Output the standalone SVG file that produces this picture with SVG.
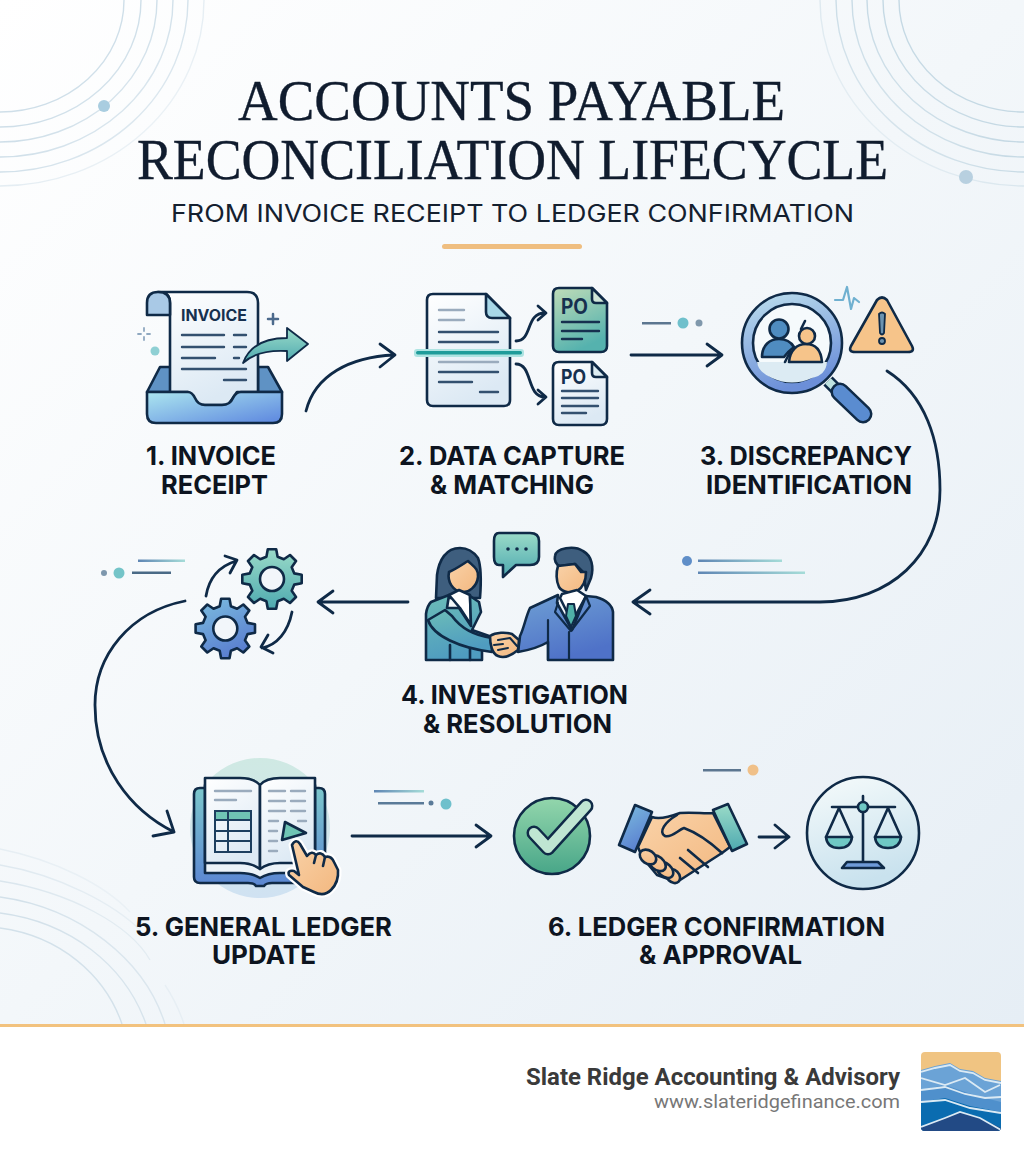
<svg xmlns="http://www.w3.org/2000/svg" xmlns:xlink="http://www.w3.org/1999/xlink" width="1024" height="1154" viewBox="0 0 1024 1154">
<style>
.s{stroke:#0f2a47;stroke-width:2.6;stroke-linejoin:round;stroke-linecap:round}
.l{fill:none;stroke:#33506f;stroke-width:2.4;stroke-linecap:round}
.lg{fill:none;stroke:#9aabbd;stroke-width:2.4;stroke-linecap:round}
.c{fill:none;stroke:#0f2a47;stroke-width:2.8;stroke-linecap:round;stroke-linejoin:round}
.lab{font-family:"Inter","Liberation Sans",sans-serif;font-weight:700;font-size:26px;fill:#0d1420}
.ttl{font-family:"Liberation Serif",serif;font-size:57px;fill:#101c2e;stroke:#101c2e;stroke-width:.35}
.po{font-family:"Inter","Liberation Sans",sans-serif;font-weight:700;fill:#16304f}
</style>
<defs>
<linearGradient id="bg" x1="0" y1="0" x2="1" y2="1"><stop offset="0" stop-color="#ffffff"/><stop offset=".5" stop-color="#f3f7fa"/><stop offset="1" stop-color="#e6eef5"/></linearGradient>
<linearGradient id="paper" x1="0" y1="0" x2=".4" y2="1"><stop offset="0" stop-color="#ffffff"/><stop offset="1" stop-color="#dce9f4"/></linearGradient>
<linearGradient id="tray" x1="0" y1="0" x2="1" y2="1"><stop offset="0" stop-color="#ace6ef"/><stop offset="1" stop-color="#5c86df"/></linearGradient>
<linearGradient id="teal" x1="0" y1="0" x2="0" y2="1"><stop offset="0" stop-color="#9adbc8"/><stop offset="1" stop-color="#4ea9b0"/></linearGradient>
<linearGradient id="pog" x1="0" y1="0" x2=".4" y2="1"><stop offset="0" stop-color="#c0dcb8"/><stop offset="1" stop-color="#55b2ae"/></linearGradient>
<linearGradient id="ring" x1="0" y1="0" x2=".3" y2="1"><stop offset="0" stop-color="#bfe1ee"/><stop offset="1" stop-color="#6c8fd8"/></linearGradient>
<linearGradient id="blue" x1="0" y1="0" x2=".5" y2="1"><stop offset="0" stop-color="#7dbfdf"/><stop offset="1" stop-color="#5a7fd0"/></linearGradient>
<linearGradient id="suit" x1="0" y1="0" x2=".4" y2="1"><stop offset="0" stop-color="#6fa0d4"/><stop offset="1" stop-color="#4f72c8"/></linearGradient>
<linearGradient id="jacket" x1="0" y1="0" x2=".3" y2="1"><stop offset="0" stop-color="#6cbdb8"/><stop offset="1" stop-color="#4f9cc0"/></linearGradient>
<linearGradient id="skin" x1="0" y1="0" x2="1" y2="1"><stop offset="0" stop-color="#f9d2a8"/><stop offset="1" stop-color="#f3b880"/></linearGradient>
<linearGradient id="check" x1="0" y1="0" x2="0" y2="1"><stop offset="0" stop-color="#93d6ac"/><stop offset="1" stop-color="#48a688"/></linearGradient>
<linearGradient id="scale" x1="0" y1="0" x2=".3" y2="1"><stop offset="0" stop-color="#f6fbfb"/><stop offset="1" stop-color="#c9e2ee"/></linearGradient>
<linearGradient id="halo" x1="0" y1="0" x2="0" y2="1"><stop offset="0" stop-color="#cfe9e3"/><stop offset="1" stop-color="#d0e2f2"/></linearGradient>
<linearGradient id="cover" x1="0" y1="0" x2="0" y2="1"><stop offset="0" stop-color="#7cc7cc"/><stop offset="1" stop-color="#5b86d2"/></linearGradient>
<linearGradient id="fade" x1="0" y1="0" x2="1" y2="0"><stop offset="0" stop-color="#5f86b4"/><stop offset="1" stop-color="#a5dcd8"/></linearGradient>
<linearGradient id="o1" gradientUnits="userSpaceOnUse" x1="0" y1="0" x2="200" y2="190"><stop offset=".4" stop-color="#cfdfe9"/><stop offset="1" stop-color="#eef3f7"/></linearGradient>
<linearGradient id="o2" gradientUnits="userSpaceOnUse" x1="1024" y1="0" x2="824" y2="190"><stop offset=".4" stop-color="#c5d9e4"/><stop offset="1" stop-color="#ecf2f6"/></linearGradient>
<linearGradient id="o3" gradientUnits="userSpaceOnUse" x1="0" y1="1024" x2="180" y2="870"><stop offset=".4" stop-color="#d3e1ea"/><stop offset="1" stop-color="#eef3f7"/></linearGradient>
<path id="gear" d="M22.3 -5.6L29.7 -4.2L29.7 4.2L22.3 5.6L19.7 11.8L24 18L18 24L11.8 19.7L5.6 22.3L4.2 29.7L-4.2 29.7L-5.6 22.3L-11.8 19.7L-18 24L-24 18L-19.7 11.8L-22.3 5.6L-29.7 4.2L-29.7 -4.2L-22.3 -5.6L-19.7 -11.8L-24 -18L-18 -24L-11.8 -19.7L-5.6 -22.3L-4.2 -29.7L4.2 -29.7L5.6 -22.3L11.8 -19.7L18 -24L24 -18L19.7 -11.8Z"/>
<clipPath id="logoclip"><rect x="921" y="1052" width="80" height="79" rx="4"/></clipPath>
</defs>

<rect width="1024" height="1024" fill="url(#bg)"/>

<g id="background-rings">
<g stroke="url(#o1)" fill="none" stroke-width="1.400">
<path d="M124 0A124 112 0 0 1 0 112"/><path d="M141 0A141 127 0 0 1 0 127"/><path d="M157 0A157 142 0 0 1 0 142"/><path d="M173 0A173 157 0 0 1 0 157"/><path d="M188 0A188 172 0 0 1 0 172"/><path d="M204 0A204 186 0 0 1 0 186" opacity=".6"/>
</g>
<g stroke="url(#o2)" fill="none" stroke-width="1.400">
<path d="M899 0A125 112 0 0 0 1024 112"/><path d="M883 0A141 127 0 0 0 1024 127"/><path d="M867 0A157 142 0 0 0 1024 142"/><path d="M852 0A172 157 0 0 0 1024 157"/><path d="M836 0A188 172 0 0 0 1024 172"/><path d="M820 0A204 186 0 0 0 1024 186" opacity=".6"/>
</g>
<g stroke="url(#o3)" fill="none" stroke-width="1.400">
<path d="M0 928C60 936 105 975 122 1024"/><path d="M0 913C70 922 125 965 146 1024"/><path d="M0 897C80 908 145 960 165 1024"/><path d="M0 881C70 892 130 925 150 960" opacity=".8"/><path d="M0 865C60 875 115 905 140 930" opacity=".7"/><path d="M0 849C55 860 105 885 130 912" opacity=".5"/>
<path d="M165 985C175 1000 180 1012 184 1024" opacity=".5"/>
</g>
<circle cx="104" cy="106" r="6" fill="#a9cde0"/>
<circle cx="966" cy="177" r="7" fill="#b8d0e0"/>
</g>

<g id="title">
<text class="ttl" x="238" y="120" textLength="547" lengthAdjust="spacingAndGlyphs">ACCOUNTS PAYABLE</text>
<text class="ttl" x="137" y="178.500" textLength="751" lengthAdjust="spacingAndGlyphs">RECONCILIATION LIFECYCLE</text>
<text x="171" y="222" font-family="Inter,'Liberation Sans',sans-serif" font-size="24" fill="#14202f" textLength="683" lengthAdjust="spacingAndGlyphs">FROM INVOICE RECEIPT TO LEDGER CONFIRMATION</text>
<rect x="442" y="244" width="140" height="5" rx="2.500" fill="#efbe80"/>
</g>

<g id="connectors">
<path class="c" d="M306 411C315 375 350 357 394 355M380 344L395 355L380 367"/>
<path class="c" d="M631 355L722 355M707 344L722 355L707 366"/>
<path class="c" d="M887 371C925 395 940 440 940 490C940 555 890 602 820 602L633 602M650 590L633 602L650 614"/>
<path class="c" d="M408 602L318 602M333 591L318 602L333 613"/>
<path class="c" d="M185 601C130 612 95 655 95 705C95 765 130 810 174 832M167 811L174 832L153 836"/>
<path class="c" d="M352 836L491 836M476 825L491 836L476 847"/>
</g>

<g id="decor">
<rect x="642" y="322" width="29" height="2.500" fill="#5c7690"/><circle cx="683" cy="323" r="5.500" fill="#6fc0cc"/><circle cx="699" cy="323" r="3.500" fill="#8098ac"/>
<circle cx="687" cy="561" r="5" fill="#5f8ec8"/><rect x="698" y="559.500" width="84" height="2.500" fill="url(#fade)"/><rect x="698" y="571.500" width="107" height="2.500" fill="url(#fade)"/>
<circle cx="104" cy="573" r="3" fill="#7d97ad"/><circle cx="119" cy="573" r="5.500" fill="#74c4c8"/><rect x="132" y="571.500" width="39" height="2.500" fill="#4a6a86"/><rect x="138" y="559.500" width="47" height="2.500" fill="url(#fade)"/>
<rect x="374" y="790" width="50" height="2.500" fill="url(#fade)"/><rect x="378" y="802" width="46" height="2.500" fill="#5a7a98"/><circle cx="431" cy="803" r="2.500" fill="#5a7a98"/><circle cx="446" cy="804" r="5.500" fill="#6fc0cc"/>
<rect x="703" y="769" width="38" height="2.500" fill="#5c7690"/><circle cx="753" cy="770" r="5.500" fill="#f0c088"/>
</g>

<g id="node-1">
<path class="s" fill="#5f92c4" d="M147 392L160 367L171 367L171 392ZM258 367L268 367L282 392L258 392Z"/>
<path class="s" fill="url(#paper)" d="M158 292L247 292Q258 292 258 303L258 392L237 392L228 405L198 405L188 392L170 392L170 303Q170 292 158 292Z"/>
<path class="s" fill="#a9c9e6" d="M170 315L147 315L147 303Q147 292 158 292Q170 292 170 303Z"/>
<text class="po" x="181" y="321" font-size="15.500" textLength="66" lengthAdjust="spacingAndGlyphs">INVOICE</text>
<path class="l" d="M182 335L224 335M234 335L246 335M182 347L224 347M234 347L246 347M182 358L215 358M234 358L239 358M182 369L246 369M224 380L246 380"/>
<path class="s" fill="url(#tray)" d="M147 392L188 392Q192 392 195 398Q198 405 205 405L222 405Q230 405 233 398Q236 392 241 392L282 392L282 414Q282 423 273 423L156 423Q147 423 147 414Z"/>
<path class="s" style="stroke-width:1.800" fill="url(#teal)" d="M243 363C250 344 268 338 287 338L287 328L308 344L287 361L287 351C270 350 255 352 243 363Z"/>
<path d="M273 314L273 324M268 319L278 319" fill="none" stroke="#4c6a8c" stroke-width="2.500" stroke-linecap="round"/>
<path d="M144 328L144 331M144 337L144 340M138 334L141 334M147 334L150 334" fill="none" stroke="#8fa8c0" stroke-width="1.800" stroke-linecap="round"/>
<circle cx="155" cy="351" r="4.500" fill="#8fd0d4"/>
<text class="lab" x="146" y="465" textLength="130" lengthAdjust="spacingAndGlyphs">1. INVOICE</text>
<text class="lab" x="161" y="494" textLength="107" lengthAdjust="spacingAndGlyphs">RECEIPT</text>
</g>

<g id="node-2">
<path class="s" fill="url(#paper)" d="M427 300Q427 294 433 294L486 294L510 318L510 400Q510 406 504 406L433 406Q427 406 427 400Z"/>
<path class="s" fill="#a8d8e8" d="M486 294L510 318L492 318Q486 318 486 312Z"/>
<path class="lg" d="M439 310L464 310M439 320L464 320M439 362L498 362"/>
<path class="l" d="M439 332L498 332M439 342L498 342M439 372L498 372M439 382L472 382M480 392L498 392"/>
<rect x="414" y="349" width="110" height="8" rx="3" fill="#aee4e2"/>
<rect x="416" y="351" width="106" height="3.500" rx="1.700" fill="#1f9c9a"/>
<path class="c" d="M516 341C533 341 525 313 545 313M538 306L546 313L538 320"/>
<path class="c" d="M516 364C533 364 526 397 545 397M538 390L546 397L538 404"/>
<path class="s" fill="url(#pog)" d="M553 294Q553 288 559 288L592 288L607 303L607 346Q607 352 601 352L559 352Q553 352 553 346Z"/>
<path class="s" fill="#cfe6d8" d="M592 288L607 303L596 303Q592 303 592 299Z"/>
<text class="po" x="561" y="314" font-size="21" textLength="27" lengthAdjust="spacingAndGlyphs">PO</text>
<path class="l" style="stroke:#16304f" d="M562 322L599 322M562 331L599 331M562 339L582 339"/>
<path class="s" fill="url(#paper)" d="M553 368Q553 362 559 362L592 362L607 377L607 419Q607 425 601 425L559 425Q553 425 553 419Z"/>
<path class="s" fill="#dcecf2" d="M592 362L607 377L596 377Q592 377 592 373Z"/>
<text class="po" x="561" y="384" font-size="20" textLength="25" lengthAdjust="spacingAndGlyphs">PO</text>
<path class="l" d="M562 391L598 391M562 398L598 398M562 406L598 406M562 413L586 413"/>
<text class="lab" x="399" y="465" textLength="226" lengthAdjust="spacingAndGlyphs">2. DATA CAPTURE</text>
<text class="lab" x="430" y="494" textLength="164" lengthAdjust="spacingAndGlyphs">&amp; MATCHING</text>
</g>

<g id="node-3">
<path d="M828 381L840 393" fill="none" stroke="#0f2a47" stroke-width="13"/>
<path d="M828 381L840 393" fill="none" stroke="#bfe3e0" stroke-width="8"/>
<path d="M840 392L863 414" fill="none" stroke="#0f2a47" stroke-width="19" stroke-linecap="round"/>
<path d="M840 392L863 414" fill="none" stroke="#5a8cd0" stroke-width="14" stroke-linecap="round"/>
<circle class="s" cx="792" cy="343" r="50" fill="url(#ring)"/>
<circle class="s" cx="792" cy="343" r="39" fill="#f5fafc"/>
<path d="M757 362L827 362Q826 375 812 378Q792 387 772 378Q758 372 757 362Z" fill="#dcebf3"/>
<path class="s" fill="#4f8cc0" d="M762 357C762 345 770 339 779 339C785 339 791 342 794 347C790 350 786 354 784 357Z"/>
<circle class="s" cx="779" cy="329" r="9.500" fill="#4f8cc0"/>
<path class="s" fill="#f6c48a" d="M789 362C790 350 797 344 806 344C815 344 821 350 822 362Z"/>
<circle class="s" cx="807" cy="336" r="8" fill="#f6c48a"/>
<path class="s" fill="none" d="M801 329L805 321M785 362L790 352"/>
<path class="s" fill="#f6c48a" d="M877 300Q882 295 887 300L912 346Q915 352 908 352L855 352Q848 352 851 346Z"/>
<path class="s" style="stroke-width:1.800" fill="#6c93b0" d="M879 314Q882 311 885 314L884 333Q882 336 880 333Z"/>
<circle class="s" style="stroke-width:1.800" cx="882" cy="341" r="3" fill="#6c93b0"/>
<path d="M835 300L843 300L847 287L851 309L854 298L859 302" fill="none" stroke="#6fb0d0" stroke-width="2.200" stroke-linecap="round" stroke-linejoin="round"/>
<text class="lab" x="700" y="465" textLength="212" lengthAdjust="spacingAndGlyphs">3. DISCREPANCY</text>
<text class="lab" x="706" y="494" textLength="206" lengthAdjust="spacingAndGlyphs">IDENTIFICATION</text>
</g>

<g id="node-4">
<path class="s" fill="#3e5e7e" d="M460 548C446 548 439 560 437 575L436 598L480 598C481 585 481 566 478 558C473 551 467 548 460 548Z"/>
<path class="s" fill="url(#skin)" d="M449 572C456 569 463 564 468 561C473 566 479 569 478 577C477 587 468 593 462 592C453 591 447 582 449 572Z"/>
<path class="s" fill="#fff" d="M449 595L459 590L470 595L471 625L460 608Z"/>
<path class="s" fill="url(#jacket)" d="M449 595L431 602Q427 606 426 614L426 660L482 660L482 643L492 642L492 637L472 630L481 612L479 602L470 596L471 626L459 608L447 608Z"/>
<path class="s" fill="none" d="M447 620L470 642M470 642L470 660M450 660L450 645"/>
<path class="s" fill="url(#jacket)" d="M428 620C433 636 460 648 492 652L492 638C478 636 462 630 452 616L445 610Z"/>
<path class="s" fill="#3e5e7e" d="M555 556C556 548 574 545 583 551C592 556 594 567 591 578L586 590L583 572L575 564L560 566C556 565 554 560 555 556Z"/>
<path class="s" fill="url(#skin)" d="M558 566L575 564L581 572L586 572C586 582 582 588 577 591C571 594 562 592 559 587C556 581 556 572 558 566Z"/>
<path class="s" fill="#fff" d="M562 594L577 590L586 596L572 622L560 598Z"/>
<path class="s" fill="url(#suit)" d="M558 595L530 608C526 616 524 628 520 636L518 652C530 650 538 648 548 642L548 660L613 660L613 612C612 604 606 600 596 597L586 596L572 630L557 603Z"/>
<path class="s" style="stroke-width:2" fill="#4fb0a8" d="M568 604L574 604L576 616L571 627L566 616Z"/>
<path class="s" fill="none" style="stroke-width:2.200" d="M558 603L555 612L571 631L590 606L586 596M548 620L548 660M569 632L569 660"/>
<path class="s" fill="url(#skin)" d="M490 636C496 632 506 632 512 634L519 640L518 650C512 655 505 659 498 656C492 654 490 644 490 636Z"/>
<path class="s" fill="none" style="stroke-width:2" d="M498 640L510 638L517 646M498 650L508 648M494 645L503 644"/>
<path class="s" fill="url(#teal)" d="M499 533L530 533Q539 533 539 541L539 557Q539 565 530 565L516 565L503 577L503 565L499 565Q494 565 494 557L494 541Q494 533 499 533Z"/>
<circle cx="508" cy="549" r="1.800" fill="#0f2a47"/><circle cx="517" cy="549" r="1.800" fill="#0f2a47"/><circle cx="526" cy="549" r="1.800" fill="#0f2a47"/>
<text class="lab" x="401" y="704" textLength="227" lengthAdjust="spacingAndGlyphs">4. INVESTIGATION</text>
<text class="lab" x="423" y="733" textLength="189" lengthAdjust="spacingAndGlyphs">&amp; RESOLUTION</text>
</g>

<g id="node-gears">
<use xlink:href="#gear" href="#gear" x="272" y="579" class="s" fill="url(#teal)"/>
<circle class="s" cx="272" cy="579" r="12" fill="#f2f6fa"/>
<use xlink:href="#gear" href="#gear" x="225.300" y="628.500" class="s" fill="url(#blue)"/>
<circle class="s" cx="225.300" cy="628.500" r="12" fill="#f2f6fa"/>
<path class="c" d="M206 596C209 578 220 566 236 561M225 556L237 560L230 573"/>
<path class="c" d="M292 612C288 632 277 645 262 648M268 635L261 647L273 653"/>
</g>

<g id="node-5">
<circle cx="260" cy="828" r="70" fill="url(#halo)"/>
<path class="s" fill="url(#cover)" d="M205 788L200 788Q194 788 194 794L194 877Q194 883 200 883L248 883Q254 883 256 886L264 886Q266 883 272 883L319 883Q325 883 325 877L325 794Q325 788 319 788L315 788Z"/>
<path class="s" fill="#ecf3f8" d="M205 785L205 873L240 873Q252 873 260 878Q268 873 280 873L315 873L315 785Z"/>
<path class="s" fill="url(#paper)" d="M205 778L240 778Q254 778 260 785L260 869Q252 863 240 863L205 863Z"/>
<path class="s" fill="url(#paper)" d="M315 778L280 778Q266 778 260 785L260 869Q268 863 280 863L315 863Z"/>
<path class="lg" d="M215 791L251 791M215 800L236 800M269 791L285 791M291 791L305 791M269 801L285 801M291 801L305 801M269 811L285 811M291 811L305 811M269 821L278 821M298 821L306 821M269 831L277 831M269 841L277 841M269 851L277 851"/>
<rect x="215" y="811" width="36" height="9" fill="#6fc4b4"/>
<rect x="215" y="811" width="36" height="41" fill="none" stroke="#1d3f5f" stroke-width="2"/>
<path d="M215 820L251 820M215 831L251 831M215 841L251 841M228 811L228 852" fill="none" stroke="#1d3f5f" stroke-width="2"/>
<path class="s" fill="#6fc4b4" d="M285 822L306 833L282 840Z"/>
<path d="M292 845Q296 838 300 844L307 856Q312 850 316 855Q321 851 325 857Q331 855 334 862L338 870Q339 882 331 890Q324 897 314 892L303 887L289 875Q287 870 294 871L299 875Z" fill="#fff" stroke="#fff" stroke-width="7" stroke-linejoin="round"/>
<path class="s" fill="url(#skin)" d="M292 845Q296 838 300 844L307 856Q312 850 316 855Q321 851 325 857Q331 855 334 862L338 870Q339 882 331 890Q324 897 314 892L303 887L289 875Q287 870 294 871L299 875Z"/>
<path class="s" fill="none" d="M316 855L314 863M325 857L323 866"/>
<text class="lab" x="135" y="936" textLength="257" lengthAdjust="spacingAndGlyphs">5. GENERAL LEDGER</text>
<text class="lab" x="212" y="964" textLength="104" lengthAdjust="spacingAndGlyphs">UPDATE</text>
</g>

<g id="node-6">
<circle class="s" cx="552" cy="836" r="38" fill="url(#check)"/>
<path d="M534 833L548 848L586 806" fill="none" stroke="#0f2a47" stroke-width="15" stroke-linecap="round" stroke-linejoin="round"/>
<path d="M534 833L548 848L586 806" fill="none" stroke="#bfe6d2" stroke-width="10" stroke-linecap="round" stroke-linejoin="round"/>
<path class="s" fill="url(#skin)" d="M652 817C660 820 672 816 680 813C695 812 705 814 713 813L730 847L722 853L677 882L657 875L642 857L638 847Z"/>
<ellipse class="s" cx="673" cy="876" rx="8" ry="6" fill="url(#skin)" transform="rotate(45 673 876)"/>
<ellipse class="s" cx="665" cy="870" rx="9.500" ry="6.500" fill="url(#skin)" transform="rotate(42 665 870)"/>
<ellipse class="s" cx="657" cy="863" rx="10" ry="6.500" fill="url(#skin)" transform="rotate(40 657 863)"/>
<ellipse class="s" cx="648" cy="857" rx="9" ry="6.500" fill="url(#skin)" transform="rotate(35 648 857)"/>
<path class="s" fill="none" d="M677 815C665 822 658 832 665 836C672 838 678 830 684 828C695 832 710 842 722 853M688 850L708 867M680 858L698 873"/>
<path class="s" fill="url(#blue)" d="M635 805L652 812L635 852L619 845Z"/>
<path class="s" fill="url(#teal)" d="M713 810L728 804L747 844L732 851Z"/>
<path class="c" d="M759 837L789 837M775 825L789 837L775 848"/>
<circle class="s" cx="863" cy="833" r="56" fill="url(#scale)"/>
<path class="s" fill="none" d="M863 796L863 862M832 807L895 807M839 808L826 837M839 808L852 837M888 808L875 837M888 808L901 837"/>
<path class="s" fill="#6fc8c4" d="M826 837L852 837Q851 848 839 848Q827 848 826 837ZM875 837L901 837Q900 848 888 848Q876 848 875 837Z"/>
<path class="s" fill="#6f9bd8" d="M842 868L847 862L878 862L884 868Z"/>
<circle class="s" cx="863" cy="807" r="5" fill="#6fc8c4"/>
<text class="lab" x="548" y="936" textLength="337" lengthAdjust="spacingAndGlyphs">6. LEDGER CONFIRMATION</text>
<text class="lab" x="639" y="964" textLength="163" lengthAdjust="spacingAndGlyphs">&amp; APPROVAL</text>
</g>

<g id="footer">
<rect y="1027" width="1024" height="127" fill="#ffffff"/>
<rect y="1024" width="1024" height="3" fill="#f2c27e"/>
<text x="526" y="1085" font-family="Roboto,'Liberation Sans',sans-serif" font-weight="700" font-size="23.500" fill="#3a3a3a" textLength="374" lengthAdjust="spacingAndGlyphs">Slate Ridge Accounting &amp; Advisory</text>
<text x="654" y="1108" font-family="Roboto,'Liberation Sans',sans-serif" font-size="19" fill="#777777" textLength="246" lengthAdjust="spacingAndGlyphs">www.slateridgefinance.com</text>
<g id="logo" clip-path="url(#logoclip)">
<rect x="921" y="1052" width="80" height="79" fill="#f0c482"/>
<path d="M921 1070L935 1066L950 1063L960 1069L973 1071L985 1078L1001 1081L1001 1131L921 1131Z" fill="#6ba3d6"/>
<path d="M921 1090L945 1085L965 1092L985 1098L1001 1102L1001 1131L921 1131Z" fill="#4f90cc"/>
<path d="M921 1102L945 1098L970 1106L1001 1112L1001 1131L921 1131Z" fill="#0a6cb0"/>
<path d="M921 1127L945 1118L960 1112L980 1118L1001 1128L1001 1131L921 1131Z" fill="#224a85"/>
<g fill="none" stroke="#dbeaf4" stroke-width="1.800">
<path d="M921 1072L935 1068L950 1065L960 1071L973 1073L985 1080L1001 1083"/>
<path d="M921 1078L945 1085L965 1078L985 1092L1000 1085"/>
<path d="M921 1090L945 1087L965 1094L985 1098L1001 1097"/>
<path d="M921 1102L945 1100L970 1108L1001 1113"/>
<path d="M921 1127L945 1118L960 1112L980 1118L1001 1130"/>
</g>
</g>
</g>
</svg>
